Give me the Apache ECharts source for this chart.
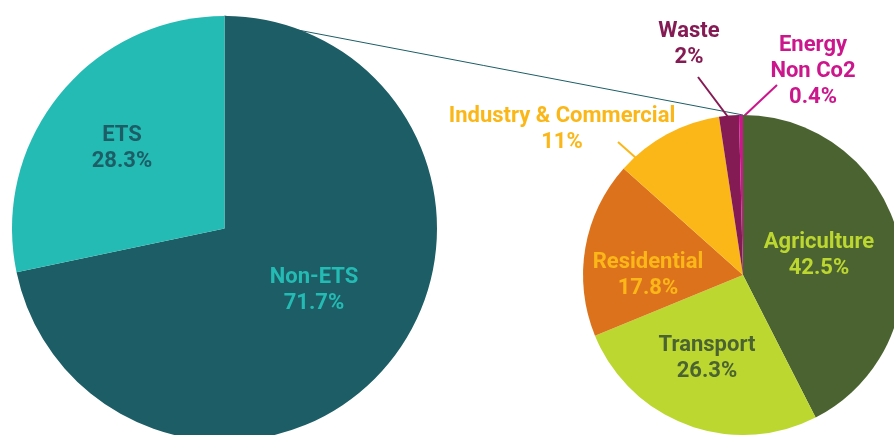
<!DOCTYPE html>
<html>
<head>
<meta charset="utf-8">
<script src="https://cdn.jsdelivr.net/npm/echarts@6/dist/echarts.min.js"></script>
<style>
html,body{margin:0;padding:0;background:#fff;}
#chart{width:894px;height:435px;}
</style>
</head>
<body>
<div id="chart"></div>
<script>
// ---- data ----
const bigCategories = ['Non-ETS', 'ETS'];
const bigValues = [71.7, 28.3];
const smallCategories = ['Agriculture', 'Transport', 'Residential', 'Industry & Commercial', 'Waste', 'Energy\nNon Co2'];
const smallValues = [42.5, 26.3, 17.8, 11, 2, 0.4];

// ---- styles ----
const FONT = 'Roboto';
const bigColors = ['#1c5d66', '#24bbb4'];
const bigLabelColors = ['#24bbb4', '#1c5d66'];
const smallColors = ['#4a6330', '#bdd731', '#dc731c', '#fbb718', '#851b54', '#cb168c'];
const smallLabelColors = ['#bdd731', '#4a6330', '#fbb718', '#fbb718', '#851b54', '#cb168c'];

const bigCenter = [224.5, 228.5], bigR = 212.5;
const smallCenter = [743, 275], smallR = 160;

// label placement (block centres) and leader lines
const bigLabelPos = [[314, 290], [122, 148]];
const smallLabelPos = [[819, 255], [707, 358], [648, 275], [562, 129], [689, 44], [813, 71]];
const smallLeaders = {
  3: [[618, 142], [627, 150], [636, 158]],
  4: [[698, 77], [713, 97], [728, 117]],
  5: [[777, 85], [760, 101], [743, 117]]
};

const labelBase = {
  fontFamily: FONT, fontWeight: 'bold', fontSize: 22, lineHeight: 26, align: 'center'
};

const bigData = bigCategories.map((n, i) => ({
  name: n, value: bigValues[i],
  itemStyle: { color: bigColors[i] },
  label: Object.assign({ color: bigLabelColors[i] }, labelBase),
  labelLine: { show: false }
}));
const smallData = smallCategories.map((n, i) => ({
  name: n, value: smallValues[i],
  itemStyle: { color: smallColors[i] },
  label: Object.assign({ color: smallLabelColors[i] }, labelBase),
  labelLine: { show: !!smallLeaders[i], lineStyle: { color: smallLabelColors[i], width: 2 } }
}));

const chart = echarts.init(document.getElementById('chart'), null, { renderer: 'canvas' });
chart.setOption({
  animation: false,
  graphic: [{
    type: 'line', z: 0,
    shape: { x1: bigCenter[0], y1: bigCenter[1] - bigR, x2: smallCenter[0], y2: smallCenter[1] - smallR },
    style: { stroke: '#1c5d66', lineWidth: 1 }
  }],
  series: [
    {
      type: 'pie', center: bigCenter, radius: bigR, startAngle: 90, clockwise: true,
      avoidLabelOverlap: false, emphasis: { disabled: true }, silent: true,
      label: { show: true, position: 'outside', formatter: p => p.name + '\n' + p.value + '%' },
      labelLine: { show: false },
      labelLayout: p => ({ x: bigLabelPos[p.dataIndex][0], y: bigLabelPos[p.dataIndex][1], align: 'center', verticalAlign: 'middle' }),
      data: bigData
    },
    {
      type: 'pie', center: smallCenter, radius: smallR, startAngle: 90, clockwise: true,
      avoidLabelOverlap: false, emphasis: { disabled: true }, silent: true,
      label: { show: true, position: 'outside', formatter: p => p.name + '\n' + p.value + '%' },
      labelLayout: p => {
        const i = p.dataIndex;
        const o = { x: smallLabelPos[i][0], y: smallLabelPos[i][1], align: 'center', verticalAlign: 'middle' };
        if (smallLeaders[i]) o.labelLinePoints = smallLeaders[i];
        return o;
      },
      data: smallData
    }
  ]
});
</script>
</body>
</html>
